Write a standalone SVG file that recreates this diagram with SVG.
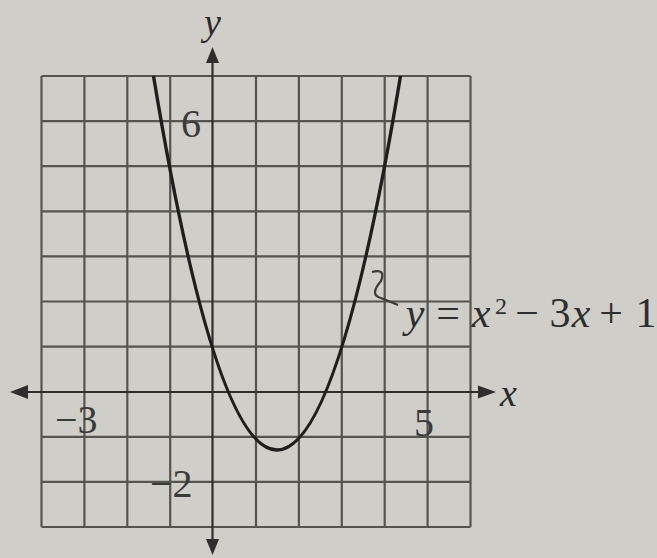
<svg xmlns="http://www.w3.org/2000/svg" width="657" height="558" viewBox="0 0 657 558">
<defs>
<style>
.grid line{stroke:#55554f;stroke-width:2.2}
.axis{stroke:#2e2e2c;stroke-width:2.2;fill:none}
.head{fill:#2e2e2c}
.curve{stroke:#1e1e1c;stroke-width:3.4;fill:none}
.num{font-family:"Liberation Serif",serif;font-size:40px;fill:#3a3a38}
.var{font-family:"Liberation Serif",serif;font-style:italic;font-size:38px;fill:#2a2a28}
.eq{font-family:"Liberation Serif",serif;font-size:42px;fill:#2e2e2c;text-anchor:middle}
.eq .i{font-style:italic}
</style>
</defs>
<rect width="657" height="558" fill="#cfcec8"/>
<g id="grid" class="grid">
<line x1="41.5" y1="76" x2="41.5" y2="527"/>
<line x1="84.4" y1="76" x2="84.4" y2="527"/>
<line x1="127.3" y1="76" x2="127.3" y2="527"/>
<line x1="170.2" y1="76" x2="170.2" y2="527"/>
<line x1="256" y1="76" x2="256" y2="527"/>
<line x1="298.9" y1="76" x2="298.9" y2="527"/>
<line x1="341.8" y1="76" x2="341.8" y2="527"/>
<line x1="384.7" y1="76" x2="384.7" y2="527"/>
<line x1="427.6" y1="76" x2="427.6" y2="527"/>
<line x1="470.5" y1="76" x2="470.5" y2="527"/>
<line x1="41.5" y1="76" x2="470.5" y2="76"/>
<line x1="41.5" y1="121.1" x2="470.5" y2="121.1"/>
<line x1="41.5" y1="166.2" x2="470.5" y2="166.2"/>
<line x1="41.5" y1="211.3" x2="470.5" y2="211.3"/>
<line x1="41.5" y1="256.4" x2="470.5" y2="256.4"/>
<line x1="41.5" y1="301.5" x2="470.5" y2="301.5"/>
<line x1="41.5" y1="346.6" x2="470.5" y2="346.6"/>
<line x1="41.5" y1="436.8" x2="470.5" y2="436.8"/>
<line x1="41.5" y1="481.9" x2="470.5" y2="481.9"/>
<line x1="41.5" y1="527" x2="470.5" y2="527"/>
</g>
<g id="axes">
<line class="axis" x1="24" y1="392" x2="482" y2="392"/>
<polygon class="head" points="10,392 28,385 28,399"/>
<polygon class="head" points="496,392 478,385.5 478,398.5"/>
<line class="axis" x1="212.5" y1="60" x2="212.5" y2="542"/>
<polygon class="head" points="212.5,47 206,63 219,63"/>
<polygon class="head" points="212.5,555 206,539 219,539"/>
<text class="var" x="204" y="35">y</text>
<text class="var" x="500" y="406">x</text>
</g>
<g id="labels">
<text class="num" x="191" y="137" text-anchor="middle">6</text>
<text class="num" x="55" y="433">−3</text>
<text class="num" x="424" y="436" text-anchor="middle">5</text>
<text class="num" x="150" y="497">−2</text>
</g>
<g id="parabola">
<path class="curve" d="M153.5 76 Q277 824 400.5 76"/>
</g>
<g id="equation">
<path d="M372 272 Q386 268 381 281 Q369 295 381 298 L398 305" fill="none" stroke="#3a3a38" stroke-width="2.2"/>
<text class="eq" y="327"><tspan class="i" x="415">y</tspan><tspan x="448">=</tspan><tspan class="i" x="481">x</tspan><tspan x="501" y="314" font-size="24">2</tspan><tspan x="527" y="327">−</tspan><tspan x="560">3</tspan><tspan class="i" x="581">x</tspan><tspan x="611">+</tspan><tspan x="646">1</tspan></text>
</g>
</svg>
